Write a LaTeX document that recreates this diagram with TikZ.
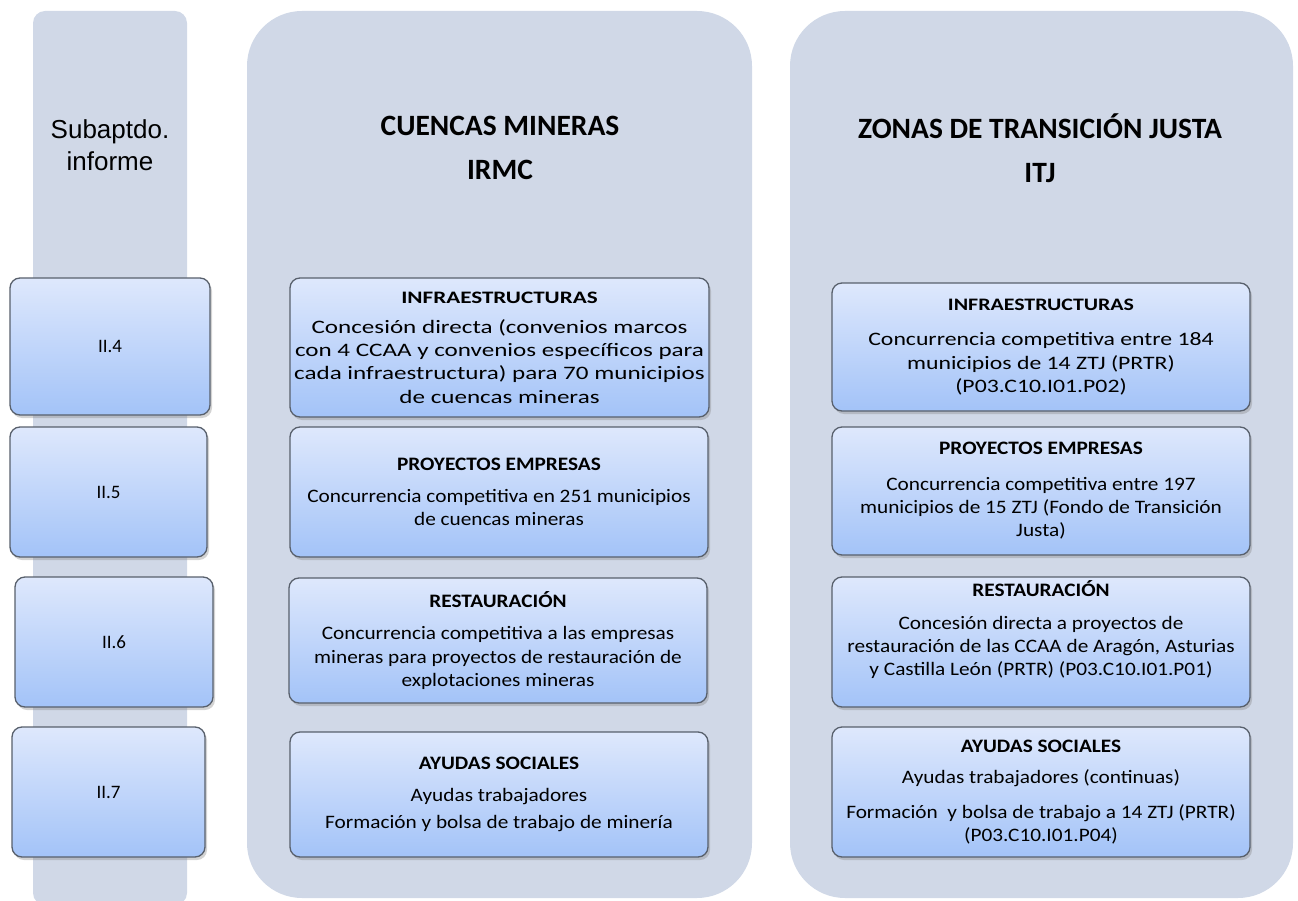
\documentclass[tikz,border=0pt]{standalone}
\usepackage{fontspec}
\setmainfont{Carlito}
\newfontfamily\arialfont{Liberation Sans}
% wide text for the two infrastructure boxes, narrower for the rest
\newfontfamily\boxfamA[FakeStretch=1.32]{Carlito}
\newfontfamily\boxfamB[FakeStretch=1.25]{Carlito}
\newfontfamily\boxfamC[FakeStretch=1.12]{Carlito}
\usetikzlibrary{shadows}
\definecolor{panelgray}{RGB}{208,216,231}
\definecolor{boxtop}{RGB}{222,232,252}
\definecolor{boxbot}{RGB}{163,195,248}
\definecolor{boxedge}{RGB}{88,96,108}
\newcommand\boxhead[1]{\textbf{#1}}
\newcommand\headfont{\fontsize{29.5}{44}\selectfont\bfseries}
\begin{document}
\begin{tikzpicture}[x=1pt,y=-1pt,
  panel/.style={fill=panelgray, draw=none, inner sep=0},
  itembox/.style={draw=boxedge, line width=1.3pt, rounded corners=10,
    top color=boxtop, bottom color=boxbot, inner sep=0, align=center,
    font={#1\fontsize{19}{23.3}\selectfont},
    drop shadow={shadow xshift=2pt, shadow yshift=-3pt, opacity=0.35}},
  itembox/.default=\boxfamC,
  numbox/.style={itembox=\rmfamily},
  title/.style={align=center, font=\headfont}]
\useasboundingbox (0,0) rectangle (1298,901);
% columns
\node at (110,458) [panel, rounded corners=12, minimum width=154, minimum height=894](colsub){};
\node at (499.5,454.5) [panel, rounded corners=55, minimum width=505, minimum height=887](colirmc){};
\node at (1041.5,454.5) [panel, rounded corners=55, minimum width=503, minimum height=887](colitj){};
% headings
\node at (110,145) [align=center, font={\arialfont\fontsize{26}{32}\selectfont}](hsub){Subaptdo.\\informe};
\node at (500,148) [title](hirmc){CUENCAS MINERAS\\IRMC};
\node at (1040,148) [title](hitj){ZONAS DE TRANSICIÓN JUSTA\\ITJ};
% subapartados
\node at (110,346.5) [numbox, minimum width=200, minimum height=137](s4){II.4};
\node at (108.5,492) [numbox, minimum width=197, minimum height=130](s5){II.5};
\node at (114,642) [numbox, minimum width=198, minimum height=130](s6){II.6};
\node at (108.5,792) [numbox, minimum width=193, minimum height=130](s7){II.7};
% cuencas mineras
\node at (499.5,347.5) [itembox=\boxfamA, minimum width=419, minimum height=139](m4){{\fontsize{17.5}{23.3}\selectfont\boxhead{INFRAESTRUCTURAS}}\\[7pt]
  Concesión directa (convenios marcos\\con 4 CCAA y convenios específicos para\\cada infraestructura) para 70 municipios\\de cuencas mineras};
\node at (499,492) [itembox, minimum width=418, minimum height=130](m5){\boxhead{PROYECTOS EMPRESAS}\\[9pt]
  Concurrencia competitiva en 251 municipios\\de cuencas mineras};
\node at (498,640.5) [itembox, minimum width=418, minimum height=125](m6){\boxhead{RESTAURACIÓN}\\[9pt]
  Concurrencia competitiva a las empresas\\mineras para proyectos de restauración de\\explotaciones mineras};
\node at (499,794.5) [itembox, minimum width=418, minimum height=125](m7){\boxhead{AYUDAS SOCIALES}\\[8pt]
  Ayudas trabajadores\\[4pt]Formación y bolsa de trabajo de minería};
% transicion justa
\node at (1041,347) [itembox=\boxfamB, minimum width=418, minimum height=128](t4){{\fontsize{17.5}{23.3}\selectfont\boxhead{INFRAESTRUCTURAS}}\\[12pt]
  Concurrencia competitiva entre 184\\municipios de 14 ZTJ (PRTR)\\(P03.C10.I01.P02)};
\node at (1041,491) [itembox, minimum width=418, minimum height=128](t5){\boxhead{PROYECTOS EMPRESAS}\\[12pt]
  Concurrencia competitiva entre 197\\municipios de 15 ZTJ (Fondo de Transición\\Justa)};
\node at (1041,642) [itembox, minimum width=418, minimum height=130](t6){\boxhead{RESTAURACIÓN}\\[9pt]
  Concesión directa a proyectos de\\restauración de las CCAA de Aragón, Asturias\\y Castilla León (PRTR) (P03.C10.I01.P01)\\[4pt]\mbox{}};
\node at (1041,792) [itembox, minimum width=418, minimum height=130](t7){\boxhead{AYUDAS SOCIALES}\\[8pt]
  Ayudas trabajadores (continuas)\\[11pt]Formación\ \ y bolsa de trabajo a 14 ZTJ (PRTR)\\(P03.C10.I01.P04)};
\end{tikzpicture}
\end{document}
